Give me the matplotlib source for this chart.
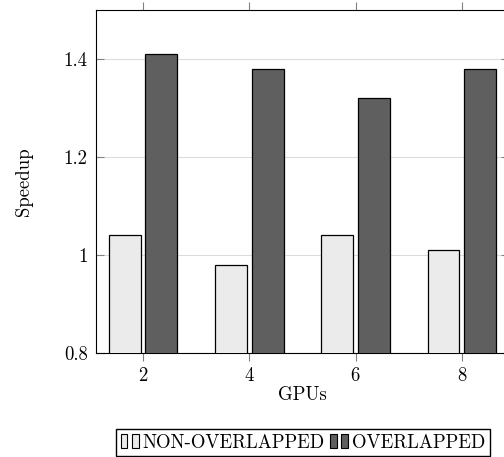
import numpy as np
import matplotlib.pyplot as plt
from matplotlib.patches import Patch
from matplotlib.legend_handler import HandlerTuple

plt.rcParams['font.family'] = 'serif'
plt.rcParams['font.serif'] = ['cmr10']
plt.rcParams['axes.formatter.use_mathtext'] = True

gpus = [2, 4, 6, 8]
non_overlapped = [1.04, 0.98, 1.04, 1.01]
overlapped = [1.41, 1.38, 1.32, 1.38]
yticks = [0.8, 1.0, 1.2, 1.4]
ytick_labels = ['0.8', '1', '1.2', '1.4']

light = '#ebebeb'
dark = '#5f5f5f'
fs = 13.5

fig = plt.figure(figsize=(5.04, 4.57), dpi=100)
ax = fig.add_axes([0.1905, 0.2276, 0.819, 0.7505])

x = np.array(gpus, dtype=float)
w = 0.6
ax.bar(x - 0.345, non_overlapped, width=w, color=light, edgecolor='black',
       linewidth=0.9, zorder=3)
ax.bar(x + 0.345, overlapped, width=w, color=dark, edgecolor='black',
       linewidth=0.9, zorder=3)

ax.set_xlim(1.116, 8.884)
ax.set_ylim(0.8, 1.5)
ax.set_xticks(gpus)
ax.set_yticks(yticks)
ax.set_yticklabels(ytick_labels)
ax.grid(axis='y', color='#dcdcdc', linewidth=0.8, zorder=0)
ax.tick_params(axis='x', direction='out', top=True, length=6, width=0.8,
               color='#808080', labelsize=fs, pad=4)
ax.tick_params(axis='y', direction='in', right=True, length=6, width=0.8,
               color='#808080', labelsize=fs, pad=6)
for s in ax.spines.values():
    s.set_linewidth(0.8)

ax.set_xlabel('GPUs', fontsize=fs, labelpad=1)
ax.set_ylabel('Speedup', fontsize=fs, labelpad=22)

h1 = (Patch(facecolor=light, edgecolor='black', linewidth=0.8),
      Patch(facecolor=light, edgecolor='black', linewidth=0.8))
h2 = (Patch(facecolor=dark, edgecolor='black', linewidth=0.8),
      Patch(facecolor=dark, edgecolor='black', linewidth=0.8))
fig.legend([h1, h2], ['NON-OVERLAPPED', 'OVERLAPPED'],
           handler_map={tuple: HandlerTuple(ndivide=None, pad=0.25)},
           loc='center', bbox_to_anchor=(0.601, 0.031), ncol=2,
           fontsize=fs, frameon=True, fancybox=False, edgecolor='black',
           framealpha=1, handlelength=0.95, handleheight=0.75,
           handletextpad=0.2, columnspacing=0.3, borderpad=0.25,
           borderaxespad=0)

fig.savefig('out.png', dpi=100)
